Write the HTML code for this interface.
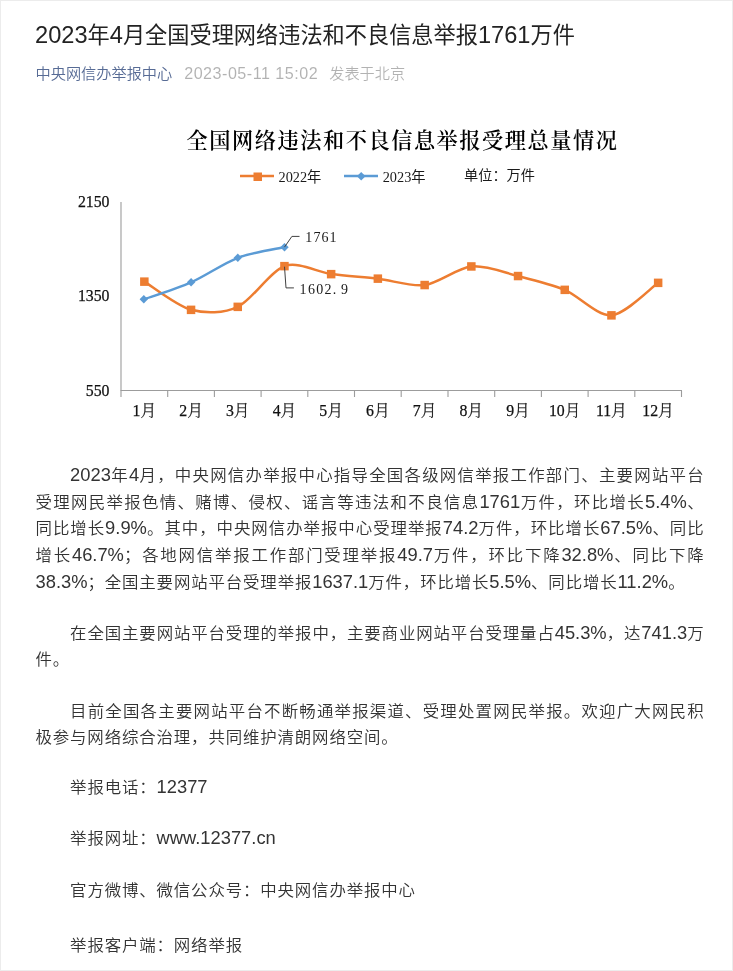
<!DOCTYPE html><html lang="zh-CN"><head><meta charset="utf-8"><title>2023年4月全国受理网络违法和不良信息举报1761万件</title><style>

*{margin:0;padding:0;box-sizing:border-box}
html,body{width:733px;height:971px;overflow:hidden;background:#fff}
body{position:relative;font-family:"Liberation Sans","Noto Sans CJK SC",sans-serif;color:#333;font-weight:350}
.frame{position:absolute;left:0;top:0;width:733px;height:971px;border:1px solid #ececec;pointer-events:none}
.title .l{font-size:1.065em}
.title{position:absolute;left:35px;top:20px;font-size:22.2px;line-height:32px;font-weight:400;color:#222;white-space:nowrap}
.meta{position:absolute;left:35.5px;top:63px;font-size:15.2px;line-height:22px;white-space:nowrap;color:rgba(0,0,0,0.3)}
.meta .nick{color:#576b95;margin-right:12px}
.meta .date{margin-right:11px;letter-spacing:0.5px}
.meta .l{font-size:1.06em;line-height:0}
.meta .date .l{letter-spacing:0.5px}
.chart{position:absolute;left:0;top:0}
.ct{font-family:"Liberation Serif","Noto Serif CJK SC",serif;font-weight:600;font-size:21.2px;letter-spacing:1.55px;fill:#000}
.lg{font-family:"Liberation Serif","Noto Serif CJK SC",serif;font-size:14.3px;fill:#1a1a1a;font-weight:400}
.lg .cj{font-family:"Noto Sans CJK SC",sans-serif}
.lg2{font-family:"Liberation Sans","Noto Sans CJK SC",sans-serif;font-size:14.2px;fill:#1a1a1a;font-weight:400}
.ax{font-family:"Liberation Serif","Noto Serif CJK SC",serif;font-size:15.8px;fill:#111;stroke:#111;stroke-width:0.25px}
.ax .cj{font-family:"Noto Serif CJK SC",serif}
.dl{font-family:"Liberation Serif","Noto Serif CJK SC",serif;font-size:14px;fill:#1a1a1a}
.body{position:absolute;left:35.5px;width:669px;font-size:16.45px;letter-spacing:0.85px;line-height:26.6px;color:#333}
.l{font-size:18.34px;letter-spacing:0;line-height:0}
.ln{display:block;white-space:nowrap;text-align:justify;text-align-last:justify;height:26.6px}
.ln.last{text-align-last:auto}
.ind{text-indent:34.6px}

</style></head><body>
<h1 class="title"><span class="l">2023</span>年<span class="l">4</span>月全国受理网络违法和不良信息举报<span class="l">1761</span>万件</h1>
<div class="meta"><span class="nick">中央网信办举报中心</span><span class="date"><span class="l">2023-05-11 15:02</span></span><span>发表于北京</span></div>
<svg class="chart" width="733" height="440" viewBox="0 0 733 440">
<text class="ct" x="186.5" y="148">全国网络违法和不良信息举报受理总量情况</text>
<line x1="240" y1="176" x2="274" y2="176" stroke="#ED7D31" stroke-width="2.4"/>
<rect x="253.5" y="172.5" width="8.5" height="8.5" fill="#ED7D31"/>
<text class="lg" x="278.5" y="182.2">2022<tspan class="cj">年</tspan></text>
<line x1="344" y1="176" x2="378" y2="176" stroke="#5B9BD5" stroke-width="2.4"/>
<path d="M361.2 171.9 L365.5 176.2 L361.2 180.5 L356.9 176.2 Z" fill="#5B9BD5"/>
<text class="lg" x="382.7" y="182.2">2023<tspan class="cj">年</tspan></text>
<text class="lg2" x="464" y="180">单位：万件</text>
<g stroke="#9C9C9C" stroke-width="1.1" fill="none">
<line x1="121" y1="202" x2="121" y2="397"/>
<line x1="120.5" y1="390.5" x2="682" y2="390.5"/>
<line x1="167.7" y1="390.5" x2="167.7" y2="397"/>
<line x1="214.4" y1="390.5" x2="214.4" y2="397"/>
<line x1="261.1" y1="390.5" x2="261.1" y2="397"/>
<line x1="307.8" y1="390.5" x2="307.8" y2="397"/>
<line x1="354.5" y1="390.5" x2="354.5" y2="397"/>
<line x1="401.2" y1="390.5" x2="401.2" y2="397"/>
<line x1="448.0" y1="390.5" x2="448.0" y2="397"/>
<line x1="494.7" y1="390.5" x2="494.7" y2="397"/>
<line x1="541.4" y1="390.5" x2="541.4" y2="397"/>
<line x1="588.1" y1="390.5" x2="588.1" y2="397"/>
<line x1="634.8" y1="390.5" x2="634.8" y2="397"/>
<line x1="681.5" y1="390.5" x2="681.5" y2="397"/>
</g>
<text class="ax" x="109.5" y="207" text-anchor="end">2150</text>
<text class="ax" x="109.5" y="301.3" text-anchor="end">1350</text>
<text class="ax" x="109.5" y="396" text-anchor="end">550</text>
<text class="ax" x="144.4" y="416" text-anchor="middle">1<tspan class="cj">月</tspan></text>
<text class="ax" x="191.1" y="416" text-anchor="middle">2<tspan class="cj">月</tspan></text>
<text class="ax" x="237.8" y="416" text-anchor="middle">3<tspan class="cj">月</tspan></text>
<text class="ax" x="284.5" y="416" text-anchor="middle">4<tspan class="cj">月</tspan></text>
<text class="ax" x="331.2" y="416" text-anchor="middle">5<tspan class="cj">月</tspan></text>
<text class="ax" x="377.9" y="416" text-anchor="middle">6<tspan class="cj">月</tspan></text>
<text class="ax" x="424.6" y="416" text-anchor="middle">7<tspan class="cj">月</tspan></text>
<text class="ax" x="471.3" y="416" text-anchor="middle">8<tspan class="cj">月</tspan></text>
<text class="ax" x="518.0" y="416" text-anchor="middle">9<tspan class="cj">月</tspan></text>
<text class="ax" x="564.7" y="416" text-anchor="middle">10<tspan class="cj">月</tspan></text>
<text class="ax" x="611.4" y="416" text-anchor="middle">11<tspan class="cj">月</tspan></text>
<text class="ax" x="658.1" y="416" text-anchor="middle">12<tspan class="cj">月</tspan></text>
<path d="M144.4 281.6 C151.4 285.8 177.1 306.0 191.1 309.8 C205.1 313.6 223.8 313.5 237.8 306.9 C251.8 300.3 270.5 271.0 284.5 266.1 C298.5 261.2 317.2 272.2 331.2 274.1 C345.2 276.0 363.9 277.1 377.9 278.7 C391.9 280.3 410.6 286.8 424.6 285.0 C438.6 283.2 457.3 267.9 471.3 266.5 C485.3 265.1 504.0 272.5 518.0 276.0 C532.0 279.5 550.7 284.0 564.7 289.9 C578.7 295.8 597.4 316.4 611.4 315.3 C625.5 314.2 651.1 287.7 658.1 282.8" fill="none" stroke="#ED7D31" stroke-width="2.5" stroke-linejoin="round"/>
<path d="M143.8 299.3 C150.9 296.8 177.0 288.5 191.1 282.3 C205.2 276.1 223.8 263.1 237.8 257.8 C251.8 252.5 277.5 248.8 284.5 247.2" fill="none" stroke="#5B9BD5" stroke-width="2.5" stroke-linejoin="round"/>
<rect x="140.1" y="277.4" width="8.5" height="8.5" fill="#ED7D31"/>
<rect x="186.8" y="305.6" width="8.5" height="8.5" fill="#ED7D31"/>
<rect x="233.5" y="302.6" width="8.5" height="8.5" fill="#ED7D31"/>
<rect x="280.2" y="261.9" width="8.5" height="8.5" fill="#ED7D31"/>
<rect x="326.9" y="269.9" width="8.5" height="8.5" fill="#ED7D31"/>
<rect x="373.6" y="274.4" width="8.5" height="8.5" fill="#ED7D31"/>
<rect x="420.4" y="280.8" width="8.5" height="8.5" fill="#ED7D31"/>
<rect x="467.1" y="262.2" width="8.5" height="8.5" fill="#ED7D31"/>
<rect x="513.8" y="271.8" width="8.5" height="8.5" fill="#ED7D31"/>
<rect x="560.5" y="285.6" width="8.5" height="8.5" fill="#ED7D31"/>
<rect x="607.2" y="311.1" width="8.5" height="8.5" fill="#ED7D31"/>
<rect x="653.9" y="278.6" width="8.5" height="8.5" fill="#ED7D31"/>
<path d="M143.8 295.1l4.2 4.2l-4.2 4.2l-4.2 -4.2z" fill="#5B9BD5"/>
<path d="M191.1 278.1l4.2 4.2l-4.2 4.2l-4.2 -4.2z" fill="#5B9BD5"/>
<path d="M237.8 253.6l4.2 4.2l-4.2 4.2l-4.2 -4.2z" fill="#5B9BD5"/>
<path d="M284.5 243.0l4.2 4.2l-4.2 4.2l-4.2 -4.2z" fill="#5B9BD5"/>
<polyline points="284.5,247.1 291.9,236.4 299.5,236.4" fill="none" stroke="#404040" stroke-width="1"/>
<polyline points="284.5,266.7 286,287.9 293.9,287.9" fill="none" stroke="#404040" stroke-width="1"/>
<text class="dl" x="305.3 313.4 321.5 329.6" y="241.5">1761</text>
<text class="dl" x="299.6 307.9 316.2 324.5 332.8 341.1" y="293.7">1602.9</text>
</svg>
<div class="body" style="top:462.3px">
<div class="ln ind"><span class="l">2023</span>年<span class="l">4</span>月，中央网信办举报中心指导全国各级网信举报工作部门、主要网站平台</div>
<div class="ln">受理网民举报色情、赌博、侵权、谣言等违法和不良信息<span class="l">1761</span>万件，环比增长<span class="l">5.4%</span>、</div>
<div class="ln">同比增长<span class="l">9.9%</span>。其中，中央网信办举报中心受理举报<span class="l">74.2</span>万件，环比增长<span class="l">67.5%</span>、同比</div>
<div class="ln">增长<span class="l">46.7%</span>；各地网信举报工作部门受理举报<span class="l">49.7</span>万件，环比下降<span class="l">32.8%</span>、同比下降</div>
<div class="ln last"><span class="l">38.3%</span>；全国主要网站平台受理举报<span class="l">1637.1</span>万件，环比增长<span class="l">5.5%</span>、同比增长<span class="l">11.2%</span>。</div>
</div>
<div class="body" style="top:619.6px">
<div class="ln ind">在全国主要网站平台受理的举报中，主要商业网站平台受理量占<span class="l">45.3%</span>，达<span class="l">741.3</span>万</div>
<div class="ln last">件。</div>
</div>
<div class="body" style="top:697.6px">
<div class="ln ind">目前全国各主要网站平台不断畅通举报渠道、受理处置网民举报。欢迎广大网民积</div>
<div class="ln last">极参与网络综合治理，共同维护清朗网络空间。</div>
</div>
<div class="body" style="top:774.3px">
<div class="ln ind last">举报电话：<span class="l">12377</span></div>
</div>
<div class="body" style="top:824.7px">
<div class="ln ind last">举报网址：<span class="l">www.12377.cn</span></div>
</div>
<div class="body" style="top:876.5px">
<div class="ln ind last">官方微博、微信公众号：中央网信办举报中心</div>
</div>
<div class="body" style="top:931.6px">
<div class="ln ind last">举报客户端：网络举报</div>
</div>
<div class="frame"></div>
</body></html>
